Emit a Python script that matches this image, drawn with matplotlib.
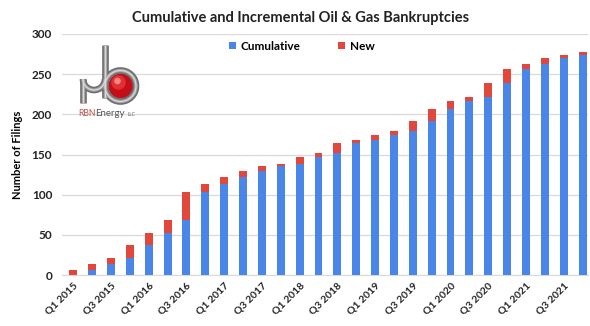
import numpy as np
import matplotlib
matplotlib.use("Agg")
import matplotlib.pyplot as plt
from matplotlib.patches import Circle, Arc

# quarterly bankruptcy filings, Q1 2015 .. Q4 2021
quarters = [f"Q{q} {y}" for y in range(2015, 2022) for q in range(1, 5)]
cumulative = [0, 7, 14, 21, 38, 52, 69, 103, 113, 122, 129, 136, 138, 147,
              152, 164, 168, 174, 179, 192, 207, 217, 221, 239, 256, 262, 270, 274]
new = [7, 7, 7, 17, 14, 17, 34, 10, 9, 7, 7, 2, 9, 5,
       12, 4, 6, 5, 13, 15, 10, 4, 18, 17, 6, 8, 4, 3]
tick_labels = quarters[::2]

blue = "#4a86e8"
red = "#e2473b"
plt.rcParams['font.family'] = ['Lato', 'DejaVu Sans']

fig = plt.figure(figsize=(5.9, 3.26), dpi=100)
ax = fig.add_axes([0.105, 0.156, 0.892, 0.74])

x = np.arange(len(quarters))
ax.bar(x, cumulative, width=0.42, color=blue, label="Cumulative", zorder=3)
ax.bar(x, new, width=0.42, bottom=cumulative, color=red, label="New", zorder=3)

ax.set_ylim(0, 300)
ax.set_xlim(-0.6, 27.3)
ax.set_yticks(range(0, 301, 50))
ax.yaxis.grid(True, color="#d9d9d9", linewidth=0.9, zorder=0)
for s in ["top", "right", "left"]:
    ax.spines[s].set_visible(False)
ax.spines["bottom"].set_color("#d9d9d9")
ax.tick_params(axis="both", length=0, colors="#222222")
ax.set_xticks(x[::2])
ax.set_xticklabels(tick_labels, rotation=45, ha="right", rotation_mode="anchor",
                   fontsize=7.5, fontweight="bold")
for lbl in ax.get_yticklabels():
    lbl.set_fontsize(8.5)
    lbl.set_fontweight("bold")
ax.tick_params(axis="y", pad=7)
ax.tick_params(axis="x", pad=4)
ax.set_ylabel("Number of Filings", fontsize=8, fontweight="bold", labelpad=6)

fig.text(0.51, 0.945, "Cumulative and Incremental Oil & Gas Bankruptcies",
         ha="center", va="center", fontsize=10.5, fontweight="bold", color="#222222")

ax.legend(loc="center left", bbox_to_anchor=(0.37, 1 - 46 / 326),
          bbox_transform=fig.transFigure, ncol=2, frameon=False,
          prop={"weight": "bold", "size": 8.5},
          handlelength=0.6, handleheight=0.6, handletextpad=0.4, columnspacing=3.2)

# RBN Energy logo, drawn in pixel units
lg = fig.add_axes([76 / 590, (326 - 122) / 326, 66 / 590, 80 / 326])
lg.set_xlim(76, 142)
lg.set_ylim(122, 42)
lg.axis("off")
lg.add_patch(Circle((121, 86), 12, color="#c40f18", zorder=2))
lg.add_patch(Circle((118.5, 82.5), 6.5, color="#e23030", zorder=3))
lg.add_patch(Circle((117.5, 81), 2.6, color="#f08a8a", zorder=4))
for lw, col in [(4.8, "#6f6f6f"), (2.4, "#a4a4a4"), (0.9, "#d8d8d8")]:
    lg.plot([83, 83], [103, 79], color=col, lw=lw, solid_capstyle="butt", zorder=5)
    lg.add_patch(Arc((94, 79), 22, 22, theta1=0, theta2=180, color=col, lw=lw, zorder=5))
    lg.plot([105, 105], [45, 98], color=col, lw=lw, solid_capstyle="butt", zorder=5)
    lg.add_patch(Arc((120.5, 86), 31, 31, theta1=0, theta2=360, color=col, lw=lw, zorder=5))
lg.text(78, 114, "RBN", color="#c0504d", fontsize=6.2, va="center", ha="left")
lg.text(95.5, 114, "Energy", color="#555555", fontsize=7, va="center", ha="left")
lg.text(127.5, 115, "LLC", color="#666666", fontsize=3.4, va="center", ha="left")

fig.savefig("out.png", dpi=100)
